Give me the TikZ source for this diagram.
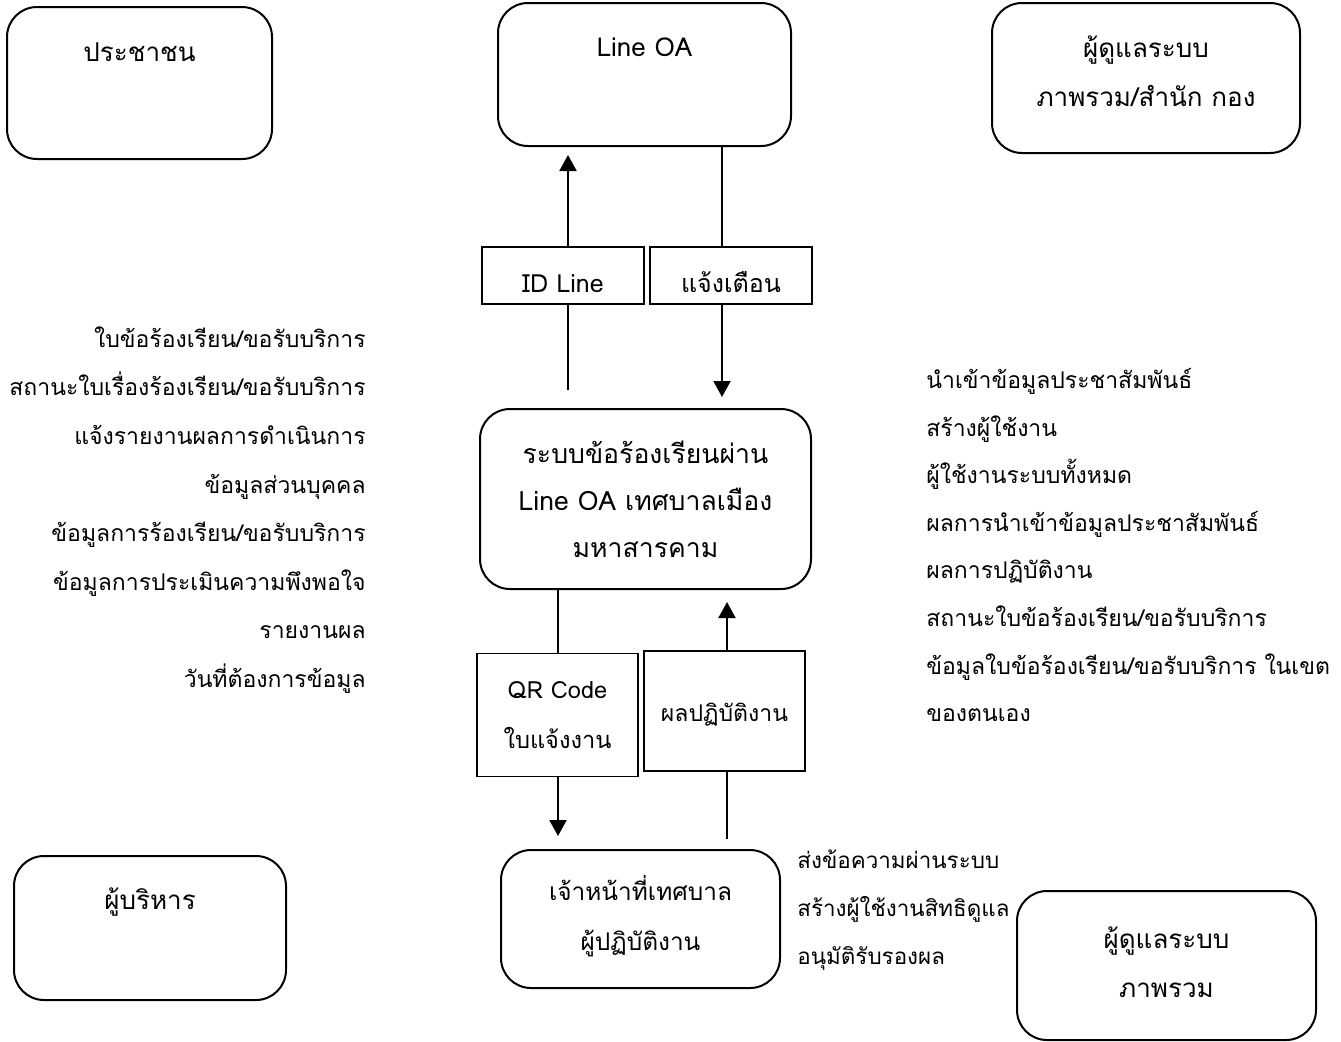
\documentclass[tikz,border=0pt]{standalone}
\usepackage{fontspec}
\setmainfont[Script=Thai]{Loma}
\usetikzlibrary{arrows.meta}

\begin{document}
\begin{tikzpicture}[x=0.5pt, y=-0.5pt]
		% Define styles
		\tikzstyle{entity} = [rectangle, rounded corners=15pt, draw=black, line width=1pt, inner sep=0pt, align=center, font=\fontsize{13}{24.5}\selectfont]
		\tikzstyle{flowlabel} = [rectangle, draw=black, line width=0.8pt, inner sep=0pt, align=center, font=\fontsize{12.5}{25}\selectfont]
		\tikzstyle{datalist} = [inner sep=0pt, font=\fontsize{11.5}{24.3}\selectfont]
		\tikzstyle{link} = [line width=1pt, draw=black]
		\tikzstyle{arrow} = [link, -{Triangle[length=8pt, width=8.5pt]}]

		\useasboundingbox (0,0) rectangle (1341,1041);

		% Entities
		\node[entity, minimum width=132.5pt, minimum height=76pt] (people) at (139.5,83) {ประชาชน\\[6pt]\mbox{}};
		\node[entity, minimum width=146.5pt, minimum height=71.5pt] (lineoa) at (644.5,74.5) {Line OA\\[3pt]\mbox{}};
		\node[entity, minimum width=154pt, minimum height=75pt] (admin) at (1146,78) {ผู้ดูแลระบบ\\ภาพรวม/สำนัก กอง\\[-18pt]\mbox{}};
		\node[entity, minimum width=165.5pt, minimum height=90pt, font=\fontsize{13.3}{23.5}\selectfont] (central) at (645.5,499) {ระบบข้อร้องเรียนผ่าน\\Line OA เทศบาลเมือง\\มหาสารคาม};
		\node[entity, minimum width=136pt, minimum height=72pt] (exec) at (150,928) {ผู้บริหาร\\[5pt]\mbox{}};
		\node[entity, minimum width=139.5pt, minimum height=69pt, font=\fontsize{12.2}{25}\selectfont] (officer) at (640.5,919) {เจ้าหน้าที่เทศบาล\\ผู้ปฏิบัติงาน\\[-19pt]\mbox{}};
		\node[entity, minimum width=149.5pt, minimum height=74.5pt] (sysadmin) at (1166.5,965.5) {ผู้ดูแลระบบ\\ภาพรวม\\[-21pt]\mbox{}};

		% Flow labels
		\node[flowlabel, minimum width=81pt, minimum height=28.5pt] (idline) at (563,275.5) {\raisebox{-4pt}[\height][\depth]{ID Line}};
		\node[flowlabel, minimum width=81pt, minimum height=28.5pt] (notify) at (731,275.5) {\raisebox{-3.5pt}[\height][\depth]{แจ้งเตือน}};
		\node[flowlabel, minimum width=80.5pt, minimum height=61.5pt, font=\fontsize{11.8}{25}\selectfont] (qrcode) at (557.5,715) {QR Code\\ใบแจ้งงาน};
		\node[flowlabel, minimum width=80.5pt, minimum height=60pt, font=\fontsize{11.5}{25}\selectfont] (result) at (724.5,711) {\raisebox{-2pt}[\height][\depth]{ผลปฏิบัติงาน}};

		% Arrows
		\coordinate (idx) at (568,0);
		\coordinate (ntx) at (722,0);
		\coordinate (qrx) at (558,0);
		\coordinate (rsx) at (727,0);
		\draw[link, shorten <=9pt] (central.north -| idx) -- (idline.south -| idx);
		\draw[arrow, shorten >=4pt] (idline.north -| idx) -- (lineoa.south -| idx);
		\draw[link] (lineoa.south -| ntx) -- (notify.north -| ntx);
		\draw[arrow, shorten >=5.5pt] (notify.south -| ntx) -- (central.north -| ntx);
		\draw[link] (central.south -| qrx) -- (qrcode.north -| qrx);
		\draw[arrow, shorten >=6.5pt] (qrcode.south -| qrx) -- (officer.north -| qrx);
		\draw[link, shorten <=5pt] (officer.north -| rsx) -- (result.south -| rsx);
		\draw[arrow, shorten >=6pt] (result.north -| rsx) -- (central.south -| rsx);

		% Data lists
		\node[datalist, anchor=east, align=right] (peopledata) at (366,510) {ใบข้อร้องเรียน/ขอรับบริการ\\สถานะใบเรื่องร้องเรียน/ขอรับบริการ\\แจ้งรายงานผลการดำเนินการ\\ข้อมูลส่วนบุคคล\\ข้อมูลการร้องเรียน/ขอรับบริการ\\ข้อมูลการประเมินความพึงพอใจ\\รายงานผล\\วันที่ต้องการข้อมูล};
		\node[datalist, anchor=west, align=left, font=\fontsize{11.5}{23.8}\selectfont] (admindata) at (926,545) {นำเข้าข้อมูลประชาสัมพันธ์\\สร้างผู้ใช้งาน\\ผู้ใช้งานระบบทั้งหมด\\ผลการนำเข้าข้อมูลประชาสัมพันธ์\\ผลการปฏิบัติงาน\\สถานะใบข้อร้องเรียน/ขอรับบริการ\\ข้อมูลใบข้อร้องเรียน/ขอรับบริการ ในเขต\\ของตนเอง};
		\node[datalist, anchor=west, align=left, font=\fontsize{11.2}{24}\selectfont] (officerdata) at (797,910) {ส่งข้อความผ่านระบบ\\สร้างผู้ใช้งานสิทธิดูแล\\อนุมัติรับรองผล};
	\end{tikzpicture}
\end{document}
